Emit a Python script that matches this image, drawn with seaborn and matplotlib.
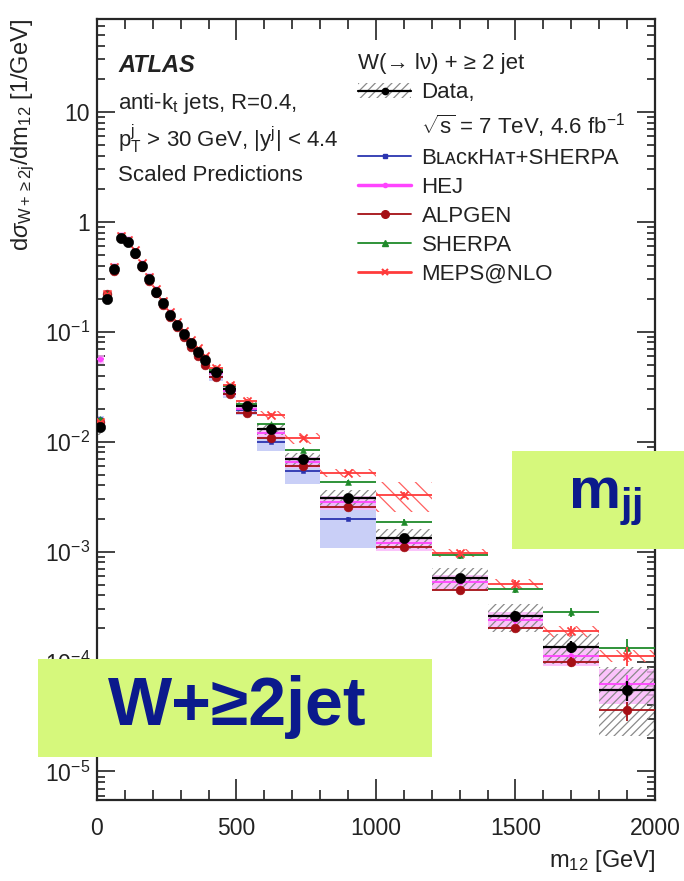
import numpy as np
import pandas as pd
import matplotlib
matplotlib.use("Agg")
import matplotlib.pyplot as plt
import seaborn as sns
from matplotlib.patches import Patch, Rectangle
from matplotlib.lines import Line2D
from matplotlib.ticker import FixedLocator, FixedFormatter, MultipleLocator, LogLocator, NullFormatter

# ---------------- binning (GeV) ----------------
bin_lo = [0, 25, 50, 75, 100, 125, 150, 175, 200, 225, 250, 275, 300, 325, 350, 375,
          400, 450, 500, 575, 675, 800, 1000, 1200, 1400, 1600, 1800]
bin_hi = [25, 50, 75, 100, 125, 150, 175, 200, 225, 250, 275, 300, 325, 350, 375, 400,
          450, 500, 575, 675, 800, 1000, 1200, 1400, 1600, 1800, 2000]

# ---------------- measured cross section [1/GeV] ----------------
data_vals = [0.0135, 0.20, 0.37, 0.72, 0.66, 0.52, 0.40, 0.30, 0.232, 0.182, 0.143, 0.116,
             0.095, 0.079, 0.066, 0.055, 0.043, 0.030, 0.021, 0.013, 0.0069, 0.0031,
             0.00133, 0.00058, 0.00026, 0.000137, 0.000055]
data_stat = [0.03, 0.01, 0.01, 0.01, 0.01, 0.01, 0.01, 0.01, 0.01, 0.01, 0.01, 0.01,
             0.01, 0.01, 0.01, 0.01, 0.02, 0.02, 0.02, 0.03, 0.04, 0.05,
             0.06, 0.08, 0.10, 0.12, 0.20]
data_syst = [0.15, 0.08, 0.08, 0.08, 0.08, 0.08, 0.08, 0.08, 0.08, 0.08, 0.08, 0.08,
             0.09, 0.09, 0.09, 0.09, 0.10, 0.10, 0.11, 0.12, 0.14, 0.17,
             0.20, 0.22, 0.28, 0.30, 0.62]

# ---------------- predictions ----------------
blackhat_vals = [0.016, 0.21, 0.37, 0.71, 0.65, 0.51, 0.39, 0.295, 0.228, 0.178, 0.139, 0.112,
                 0.091, 0.075, 0.062, 0.051, 0.039, 0.027, 0.0196, 0.0099, 0.0054, 0.00198,
                 None, None, None, None, None]
blackhat_up = [0.08] * 18 + [0.10, 0.15, 0.25, 0.40] + [0.0] * 5
blackhat_dn = [0.08] * 18 + [0.10, 0.17, 0.24, 0.45] + [0.0] * 5

hej_vals = [0.056, 0.21, 0.38, 0.74, 0.67, 0.53, 0.41, 0.31, 0.235, 0.184, 0.145, 0.117,
            0.095, 0.079, 0.065, 0.054, 0.042, 0.029, 0.0200, 0.0120, 0.0065, 0.0028,
            0.00119, 0.00053, 0.00024, 0.000113, 0.000063]
hej_band = [0.10] * 16 + [0.10, 0.10, 0.11, 0.12, 0.12, 0.14, 0.15, 0.16, 0.18, 0.20, 0.35]

alpgen_vals = [0.015, 0.22, 0.36, 0.71, 0.65, 0.51, 0.39, 0.29, 0.225, 0.175, 0.137, 0.110,
               0.089, 0.073, 0.060, 0.050, 0.039, 0.027, 0.0183, 0.0108, 0.0060, 0.00254,
               0.00110, 0.00045, 0.00020, 0.000100, 0.000036]

sherpa_vals = [0.016, 0.22, 0.37, 0.72, 0.66, 0.52, 0.40, 0.30, 0.233, 0.184, 0.146, 0.118,
               0.097, 0.081, 0.068, 0.057, 0.045, 0.032, 0.022, 0.0144, 0.0084, 0.00426,
               0.00188, 0.00093, 0.00046, 0.00028, 0.000134]

meps_vals = [0.015, 0.22, 0.39, 0.75, 0.69, 0.55, 0.42, 0.315, 0.245, 0.192, 0.152, 0.123,
             0.101, 0.084, 0.071, 0.060, 0.047, 0.033, 0.0237, 0.0176, 0.0108, 0.0052,
             0.0033, 0.00097, 0.00051, 0.00019, 0.000113]
meps_band = [0.05] * 16 + [0.06, 0.06, 0.07, 0.08, 0.12, 0.08, 0.30, 0.08, 0.10, 0.12, 0.12]

mc_stat = [0.02] * 16 + [0.02, 0.02, 0.03, 0.03, 0.04, 0.05, 0.06, 0.07, 0.08, 0.10, 0.20]

# ---------------- axis ticks ----------------
y_tick_vals = [1e-5, 1e-4, 1e-3, 1e-2, 1e-1, 1, 10]
y_tick_labels = ["10$^{-5}$", "10$^{-4}$", "10$^{-3}$", "10$^{-2}$", "10$^{-1}$", "1", "10"]
x_tick_vals = [0, 500, 1000, 1500, 2000]
x_tick_labels = ["0", "500", "1000", "1500", "2000"]

# ---------------- style ----------------
sns.set_style("ticks")
plt.rcParams["font.family"] = ["Liberation Sans", "DejaVu Sans"]
plt.rcParams["mathtext.fontset"] = "custom"
plt.rcParams["mathtext.rm"] = "Liberation Sans"
plt.rcParams["mathtext.it"] = "Liberation Sans:italic"
plt.rcParams["mathtext.bf"] = "Liberation Sans:bold"
plt.rcParams["hatch.linewidth"] = 0.9

C_BH = "#2b35b0"
C_HEJ = "#ff44ff"
C_ALP = "#a50f15"
C_SHE = "#1f8a2a"
C_MEPS = "#ff3b3b"
C_DATA = "black"
C_TXT = "#222222"

df = pd.DataFrame({
    "lo": bin_lo, "hi": bin_hi,
    "data": data_vals, "data_stat": data_stat, "data_syst": data_syst,
    "bh": pd.to_numeric(pd.Series(blackhat_vals), errors="coerce"),
    "bh_up": blackhat_up, "bh_dn": blackhat_dn,
    "hej": hej_vals, "hej_band": hej_band,
    "alp": alpgen_vals, "she": sherpa_vals,
    "meps": meps_vals, "meps_band": meps_band, "mc_stat": mc_stat,
})
df["x"] = 0.5 * (df["lo"] + df["hi"])
df["w"] = df["hi"] - df["lo"]

fig = plt.figure(figsize=(6.84, 8.81), dpi=100)
ax = fig.add_axes([0.1418, 0.0919, 0.8158, 0.8865])

# ---- uncertainty bands ----
bh = df.dropna(subset=["bh"])
ax.bar(bh["x"], bh["bh"] * (bh["bh_up"] + bh["bh_dn"]), bottom=bh["bh"] * (1 - bh["bh_dn"]),
       width=bh["w"], color="#b8bff5", alpha=0.75, linewidth=0, zorder=1)
ax.bar(df["x"], df["hej"] * 2 * df["hej_band"], bottom=df["hej"] * (1 - df["hej_band"]),
       width=df["w"], color="#fbb4fb", alpha=0.8, linewidth=0, zorder=1.2)
ax.bar(df["x"], df["data"] * 2 * df["data_syst"], bottom=df["data"] * (1 - df["data_syst"]),
       width=df["w"], facecolor="none", edgecolor="#8a8a8a", hatch="////", linewidth=0, zorder=1.5)
ax.bar(df["x"], df["meps"] * 2 * df["meps_band"], bottom=df["meps"] * (1 - df["meps_band"]),
       width=df["w"], facecolor="none", edgecolor="#ff6060", hatch="\\\\", linewidth=0, zorder=1.6)


def draw(col, color, marker, size, lw, z, err_col="mc_stat"):
    sub = df.dropna(subset=[col])
    ax.hlines(sub[col], sub["lo"], sub["hi"], color=color, lw=lw, zorder=z)
    ax.vlines(sub["x"], sub[col] * (1 - sub[err_col]), sub[col] * (1 + sub[err_col]),
              color=color, lw=lw, zorder=z)
    sns.scatterplot(data=sub, x="x", y=col, marker=marker, s=size, color=color,
                    edgecolor=color, linewidth=1.3 if marker == "x" else 0.4,
                    ax=ax, zorder=z + 0.1, legend=False)


draw("bh", C_BH, "s", 10, 1.3, 3)
draw("hej", C_HEJ, "o", 14, 1.3, 3.2)
draw("alp", C_ALP, "o", 40, 1.3, 3.4)
draw("she", C_SHE, "^", 18, 1.3, 3.6)
draw("meps", C_MEPS, "x", 34, 1.3, 3.8)
draw("data", C_DATA, "o", 55, 1.6, 5, err_col="data_stat")

# ---- axes ----
ax.set_yscale("log")
ax.set_xlim(0, 2000)
ax.set_ylim(5.5e-6, 70)
ax.yaxis.set_major_locator(FixedLocator(y_tick_vals))
ax.yaxis.set_major_formatter(FixedFormatter(y_tick_labels))
ax.yaxis.set_minor_locator(LogLocator(base=10, subs=np.arange(2, 10), numticks=20))
ax.yaxis.set_minor_formatter(NullFormatter())
ax.xaxis.set_major_locator(FixedLocator(x_tick_vals))
ax.xaxis.set_major_formatter(FixedFormatter(x_tick_labels))
ax.xaxis.set_minor_locator(MultipleLocator(100))

for s in ax.spines.values():
    s.set_linewidth(1.6)
    s.set_visible(True)
ax.tick_params(which="both", direction="in", top=True, right=True, width=1.2,
               labelsize=16.5, colors=C_TXT)
ax.tick_params(axis="x", which="major", length=15, pad=12)
ax.tick_params(axis="x", which="minor", length=7)
ax.tick_params(axis="y", which="major", length=13, pad=5)
ax.tick_params(axis="y", which="minor", length=6)

ax.set_ylabel(r"d$\sigma_{\mathrm{W+\geq2j}}$/dm$_{\mathrm{12}}$ [1/GeV]", fontsize=17,
              loc="top", color=C_TXT)
ax.yaxis.set_label_coords(-0.108, 1.0)
ax.set_xlabel(r"m$_{\mathrm{12}}$ [GeV]", fontsize=17, loc="right", color=C_TXT)
ax.xaxis.set_label_coords(1.0, -0.062)

# ---- annotations ----
ax.text(0.038, 0.94, "ATLAS", transform=ax.transAxes, fontsize=17, weight="bold",
        style="italic", va="center", color=C_TXT)
ax.text(0.038, 0.892, r"anti-k$_{\mathrm{t}}$ jets, R=0.4,", transform=ax.transAxes,
        fontsize=16, va="center", color=C_TXT)
ax.text(0.038, 0.846, r"p$_{\mathrm{T}}^{\mathrm{j}}$ > 30 GeV, |y$^{\mathrm{j}}$| < 4.4",
        transform=ax.transAxes, fontsize=16, va="center", color=C_TXT)
ax.text(0.038, 0.80, "Scaled Predictions", transform=ax.transAxes, fontsize=16,
        va="center", color=C_TXT)

# ---- legend ----
h_data = (Patch(facecolor="none", edgecolor="#8a8a8a", hatch="////", linewidth=0),
          Line2D([], [], color="black", marker="o", ms=4.5, lw=1.6))
h_blank = Line2D([], [], color="none")
handles = [h_data, h_blank,
           Line2D([], [], color=C_BH, marker="s", ms=3, lw=1.3),
           Line2D([], [], color=C_HEJ, marker="o", ms=3, lw=2.5),
           Line2D([], [], color=C_ALP, marker="o", ms=5.5, lw=1.3),
           Line2D([], [], color=C_SHE, marker="^", ms=4, lw=1.3),
           Line2D([], [], color=C_MEPS, marker="x", ms=5, lw=2.0, mew=1.5)]
labels = ["Data,", r"$\sqrt{\mathrm{s}}$ = 7 TeV, 4.6 fb$^{-1}$",
          "B\u029f\u1d00\u1d04\u1d0bH\u1d00\u1d1b+SHERPA", "HEJ", "ALPGEN", "SHERPA", "MEPS@NLO"]
leg = ax.legend(handles, labels, title="W(\u2192 l\u03bd) + \u2265 2 jet", loc="upper left",
                bbox_to_anchor=(0.468, 0.956), frameon=False, fontsize=16, title_fontsize=16,
                alignment="left", handlelength=2.4, handletextpad=0.45, labelspacing=0.36,
                borderpad=0, borderaxespad=0)
for t in leg.get_texts():
    t.set_color(C_TXT)
leg.get_title().set_color(C_TXT)

# ---- highlight labels ----
box_color = "#d6f87c"
text_color = "#0b1a8c"
W, H = 684, 881
fig.add_artist(Rectangle((512 / W, 1 - 549 / H), (684 - 512) / W, (549 - 451) / H,
                         transform=fig.transFigure, facecolor=box_color, edgecolor="none",
                         zorder=10))
fig.add_artist(Rectangle((38 / W, 1 - 757 / H), (432 - 38) / W, (757 - 659) / H,
                         transform=fig.transFigure, facecolor=box_color, edgecolor="none",
                         zorder=10))
fig.text(605 / W, 1 - 500 / H, r"$\mathbf{m_{jj}}$", fontsize=42, color=text_color,
         ha="center", va="center", zorder=11)
fig.text(237 / W, 1 - 707 / H, "W+\u22652jet", fontsize=49, weight="bold", color=text_color,
         ha="center", va="center", zorder=11)

fig.savefig("out.png", dpi=100)
